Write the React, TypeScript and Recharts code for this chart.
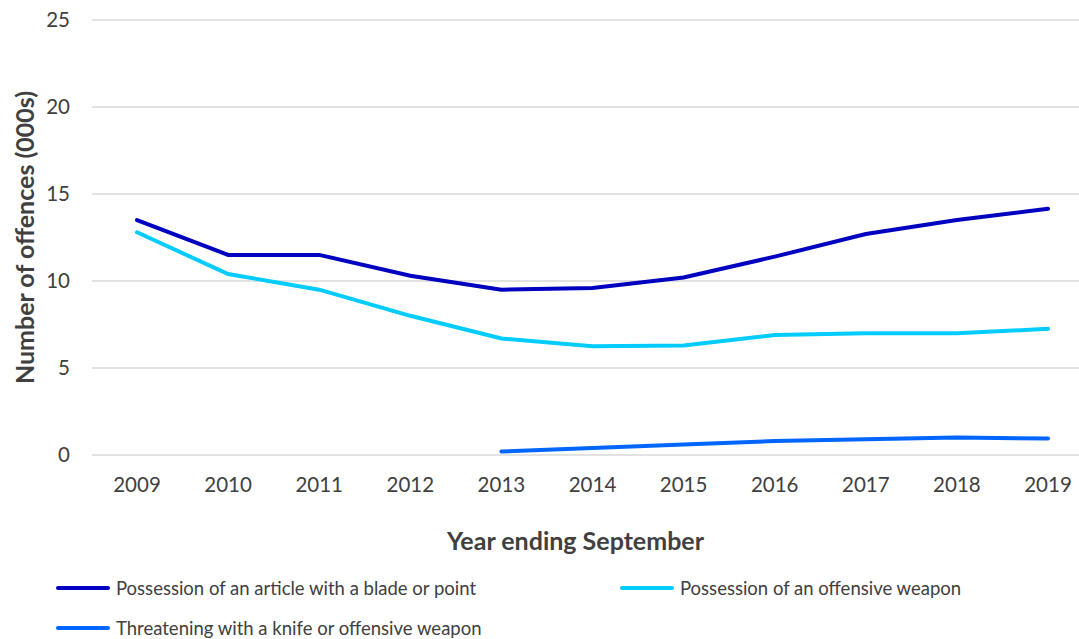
import React from 'react';
import { LineChart, Line, XAxis, YAxis, CartesianGrid } from 'recharts';

const years = ['2009', '2010', '2011', '2012', '2013', '2014', '2015', '2016', '2017', '2018', '2019'];
const bladeOrPoint = [13.5, 11.5, 11.5, 10.3, 9.5, 9.6, 10.2, 11.4, 12.7, 13.5, 14.15];
const offensiveWeapon = [12.8, 10.4, 9.5, 8.0, 6.7, 6.25, 6.3, 6.9, 7.0, 7.0, 7.25];
const threatening = [null, null, null, null, 0.2, 0.4, 0.6, 0.8, 0.9, 1.0, 0.95];
const yTicks = [0, 5, 10, 15, 20, 25];

const series = [
  { key: 'blade', name: 'Possession of an article with a blade or point', color: '#0000C0' },
  { key: 'offensive', name: 'Possession of an offensive weapon', color: '#00CCFF' },
  { key: 'threat', name: 'Threatening with a knife or offensive weapon', color: '#0066FF' },
];

const chartData = years.map((year, i) => ({
  year,
  blade: bladeOrPoint[i],
  offensive: offensiveWeapon[i],
  threat: threatening[i],
}));

const font = 'Lato, "Open Sans", sans-serif';
const textColor = '#404040';

const LegendItem = ({ color, name, left, top }: { color: string; name: string; left: number; top: number }) => (
  <div style={{ position: 'absolute', left, top, display: 'flex', alignItems: 'center' }}>
    <div style={{ width: 54, height: 4, borderRadius: 2, background: color, marginRight: 6 }} />
    <span style={{ fontSize: 18.5, color: textColor, fontFamily: font, whiteSpace: 'nowrap' }}>{name}</span>
  </div>
);

export default function App() {
  return (
    <div
      style={{
        position: 'absolute',
        left: 0,
        top: 0,
        width: 1079,
        height: 639,
        overflow: 'hidden',
        background: '#fff',
        fontFamily: font,
      }}
    >
      <LineChart
        width={1100}
        height={639}
        data={chartData}
        margin={{ top: 20, right: 7, bottom: 84, left: 0 }}
      >
        <CartesianGrid vertical={false} stroke="#d9d9d9" strokeWidth={1.5} />
        <XAxis
          dataKey="year"
          axisLine={false}
          tickLine={false}
          tickSize={0}
          tickMargin={22}
          height={100}
          interval={0}
          padding={{ left: 45, right: 45 }}
          tick={{ fill: textColor, fontSize: 20.5, fontFamily: font }}
          label={{
            value: 'Year ending September',
            position: 'insideBottom',
            offset: 5,
            dx: -17,
            style: { fill: textColor, fontSize: 25, fontWeight: 700, fontFamily: font },
          }}
        />
        <YAxis
          domain={[0, 25]}
          ticks={yTicks}
          axisLine={false}
          tickLine={false}
          tickSize={0}
          tickMargin={22}
          width={92}
          tick={{ fill: textColor, fontSize: 20.5, fontFamily: font }}
          label={{
            value: 'Number of offences (000s)',
            angle: -90,
            position: 'insideLeft',
            offset: 25,
            style: { textAnchor: 'middle', fill: textColor, fontSize: 25, fontWeight: 700, fontFamily: font },
          }}
        />
        {series.map((s) => (
          <Line
            key={s.key}
            type="linear"
            dataKey={s.key}
            name={s.name}
            stroke={s.color}
            strokeWidth={4}
            strokeLinecap="round"
            dot={false}
            activeDot={false}
            connectNulls={false}
            isAnimationActive={false}
          />
        ))}
      </LineChart>
      <LegendItem color={series[0].color} name={series[0].name} left={56} top={577} />
      <LegendItem color={series[1].color} name={series[1].name} left={620} top={577} />
      <LegendItem color={series[2].color} name={series[2].name} left={56} top={617} />
    </div>
  );
}
